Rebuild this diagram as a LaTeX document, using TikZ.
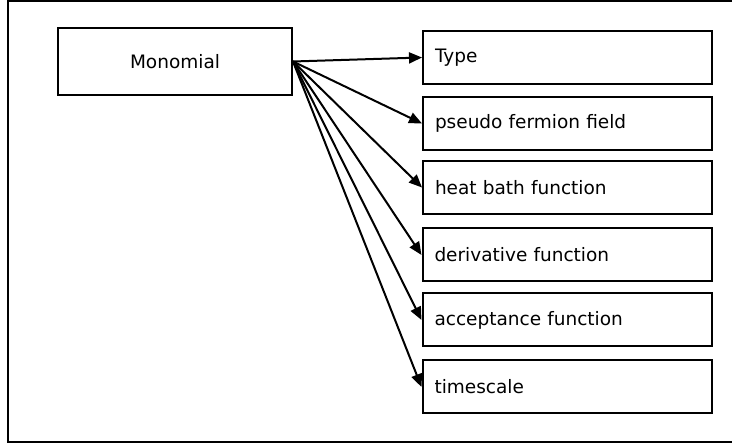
\documentclass[tikz,border=0pt]{standalone}
\usepackage{fontspec}
\setmainfont{DejaVu Sans}
\usetikzlibrary{arrows.meta}
\begin{document}
\begin{tikzpicture}[x=1pt,y=-1pt,
  box/.style={draw,line width=2pt,rectangle,font=\fontsize{18.5}{22}\selectfont},
  item/.style={box,minimum height=53pt,text width=265pt,align=left,inner xsep=12pt,inner ysep=0pt},
  conn/.style={line width=2pt,-{Triangle[length=13pt,width=11pt]}}]
\useasboundingbox (0,0) rectangle (732,446);
\begin{scope}
\clip (0,0) rectangle (732,446);
\draw[line width=2pt] (8,1) rectangle (745,442);
\end{scope}
\node[box,minimum width=234pt,minimum height=67pt] (mono) at (175,61.5) {Monomial};
\node[item] (type) at (567.5,57.5) {Type};
\node[item] (pseudo) at (567.5,123.5) {pseudo fermion field};
\node[item] (heat) at (567.5,187.5) {heat bath function};
\node[item] (deriv) at (567,255) {derivative function};
\node[item] (accept) at (567,320) {acceptance function};
\node[item] (time) at (567,387) {timescale};
\foreach \t in {type,pseudo,heat,deriv,accept,time}
  \draw[conn] (mono.east) -- (\t.west);
\end{tikzpicture}
\end{document}
